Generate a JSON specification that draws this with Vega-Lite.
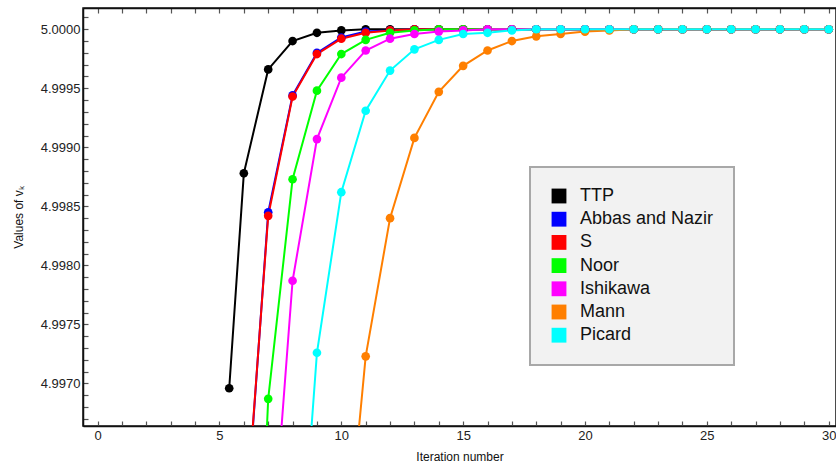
{
  "$schema": "https://vega.github.io/schema/vega-lite/v6.json",
  "width": 753,
  "height": 418,
  "autosize": "none",
  "padding": {"left": 83, "top": 8, "right": 0, "bottom": 37},
  "background": "white",
  "config": {
    "font": "Liberation Sans",
    "view": {"stroke": "#111", "strokeWidth": 1.5},
    "legend": {"strokeWidth": 2},
    "axis": {"grid": false, "labelOverlap": false, "domainColor": "#111", "domainWidth": 1.5, "tickColor": "#555", "tickWidth": 1.2, "labelColor": "#222", "labelFontSize": 13, "titleFontSize": 12, "titleFontWeight": "normal", "titleColor": "#111", "labelFont": "Liberation Sans", "titleFont": "Liberation Sans"}
  },
  "data": {"values": [
    {"n": 5.4, "v": 4.99696, "m": "TTP"}, {"n": 6, "v": 4.99878, "m": "TTP"}, {"n": 7, "v": 4.99966, "m": "TTP"}, {"n": 8, "v": 4.9999, "m": "TTP"}, {"n": 9, "v": 4.99997, "m": "TTP"}, {"n": 10, "v": 4.99999, "m": "TTP"},
    {"n": 11, "v": 5.0, "m": "TTP"}, {"n": 12, "v": 5.0, "m": "TTP"}, {"n": 13, "v": 5.0, "m": "TTP"}, {"n": 14, "v": 5.0, "m": "TTP"}, {"n": 15, "v": 5.0, "m": "TTP"}, {"n": 16, "v": 5.0, "m": "TTP"}, {"n": 17, "v": 5.0, "m": "TTP"}, {"n": 18, "v": 5.0, "m": "TTP"}, {"n": 19, "v": 5.0, "m": "TTP"}, {"n": 20, "v": 5.0, "m": "TTP"},
    {"n": 21, "v": 5.0, "m": "TTP"}, {"n": 22, "v": 5.0, "m": "TTP"}, {"n": 23, "v": 5.0, "m": "TTP"}, {"n": 24, "v": 5.0, "m": "TTP"}, {"n": 25, "v": 5.0, "m": "TTP"}, {"n": 26, "v": 5.0, "m": "TTP"}, {"n": 27, "v": 5.0, "m": "TTP"}, {"n": 28, "v": 5.0, "m": "TTP"}, {"n": 29, "v": 5.0, "m": "TTP"}, {"n": 30, "v": 5.0, "m": "TTP"},

    {"n": 5, "v": 4.9915, "m": "Abbas and Nazir"}, {"n": 6, "v": 4.99555, "m": "Abbas and Nazir"}, {"n": 7, "v": 4.99845, "m": "Abbas and Nazir"}, {"n": 8, "v": 4.99944, "m": "Abbas and Nazir"}, {"n": 9, "v": 4.9998, "m": "Abbas and Nazir"}, {"n": 10, "v": 4.99993, "m": "Abbas and Nazir"}, {"n": 11, "v": 4.99998, "m": "Abbas and Nazir"}, {"n": 12, "v": 4.99999, "m": "Abbas and Nazir"},
    {"n": 13, "v": 5.0, "m": "Abbas and Nazir"}, {"n": 14, "v": 5.0, "m": "Abbas and Nazir"}, {"n": 15, "v": 5.0, "m": "Abbas and Nazir"}, {"n": 16, "v": 5.0, "m": "Abbas and Nazir"}, {"n": 17, "v": 5.0, "m": "Abbas and Nazir"}, {"n": 18, "v": 5.0, "m": "Abbas and Nazir"}, {"n": 19, "v": 5.0, "m": "Abbas and Nazir"}, {"n": 20, "v": 5.0, "m": "Abbas and Nazir"}, {"n": 21, "v": 5.0, "m": "Abbas and Nazir"},
    {"n": 22, "v": 5.0, "m": "Abbas and Nazir"}, {"n": 23, "v": 5.0, "m": "Abbas and Nazir"}, {"n": 24, "v": 5.0, "m": "Abbas and Nazir"}, {"n": 25, "v": 5.0, "m": "Abbas and Nazir"}, {"n": 26, "v": 5.0, "m": "Abbas and Nazir"}, {"n": 27, "v": 5.0, "m": "Abbas and Nazir"}, {"n": 28, "v": 5.0, "m": "Abbas and Nazir"}, {"n": 29, "v": 5.0, "m": "Abbas and Nazir"}, {"n": 30, "v": 5.0, "m": "Abbas and Nazir"},

    {"n": 5, "v": 4.9916, "m": "S"}, {"n": 6, "v": 4.9956, "m": "S"}, {"n": 7, "v": 4.99842, "m": "S"}, {"n": 8, "v": 4.99943, "m": "S"}, {"n": 9, "v": 4.99979, "m": "S"}, {"n": 10, "v": 4.99992, "m": "S"}, {"n": 11, "v": 4.99997, "m": "S"}, {"n": 12, "v": 4.99999, "m": "S"},
    {"n": 13, "v": 5.0, "m": "S"}, {"n": 14, "v": 5.0, "m": "S"}, {"n": 15, "v": 5.0, "m": "S"}, {"n": 16, "v": 5.0, "m": "S"}, {"n": 17, "v": 5.0, "m": "S"}, {"n": 18, "v": 5.0, "m": "S"}, {"n": 19, "v": 5.0, "m": "S"}, {"n": 20, "v": 5.0, "m": "S"}, {"n": 21, "v": 5.0, "m": "S"},
    {"n": 22, "v": 5.0, "m": "S"}, {"n": 23, "v": 5.0, "m": "S"}, {"n": 24, "v": 5.0, "m": "S"}, {"n": 25, "v": 5.0, "m": "S"}, {"n": 26, "v": 5.0, "m": "S"}, {"n": 27, "v": 5.0, "m": "S"}, {"n": 28, "v": 5.0, "m": "S"}, {"n": 29, "v": 5.0, "m": "S"}, {"n": 30, "v": 5.0, "m": "S"},

    {"n": 6, "v": 4.99227, "m": "Noor"}, {"n": 7, "v": 4.99687, "m": "Noor"}, {"n": 8, "v": 4.99873, "m": "Noor"}, {"n": 9, "v": 4.99948, "m": "Noor"}, {"n": 10, "v": 4.99979, "m": "Noor"}, {"n": 11, "v": 4.99991, "m": "Noor"}, {"n": 12, "v": 4.99997, "m": "Noor"}, {"n": 13, "v": 4.99999, "m": "Noor"},
    {"n": 14, "v": 5.0, "m": "Noor"}, {"n": 15, "v": 5.0, "m": "Noor"}, {"n": 16, "v": 5.0, "m": "Noor"}, {"n": 17, "v": 5.0, "m": "Noor"}, {"n": 18, "v": 5.0, "m": "Noor"}, {"n": 19, "v": 5.0, "m": "Noor"}, {"n": 20, "v": 5.0, "m": "Noor"}, {"n": 21, "v": 5.0, "m": "Noor"},
    {"n": 22, "v": 5.0, "m": "Noor"}, {"n": 23, "v": 5.0, "m": "Noor"}, {"n": 24, "v": 5.0, "m": "Noor"}, {"n": 25, "v": 5.0, "m": "Noor"}, {"n": 26, "v": 5.0, "m": "Noor"}, {"n": 27, "v": 5.0, "m": "Noor"}, {"n": 28, "v": 5.0, "m": "Noor"}, {"n": 29, "v": 5.0, "m": "Noor"}, {"n": 30, "v": 5.0, "m": "Noor"},

    {"n": 6, "v": 4.99, "m": "Ishikawa"}, {"n": 7, "v": 4.99514, "m": "Ishikawa"}, {"n": 8, "v": 4.99787, "m": "Ishikawa"}, {"n": 9, "v": 4.99907, "m": "Ishikawa"}, {"n": 10, "v": 4.99959, "m": "Ishikawa"}, {"n": 11, "v": 4.99982, "m": "Ishikawa"}, {"n": 12, "v": 4.99992, "m": "Ishikawa"}, {"n": 13, "v": 4.99996, "m": "Ishikawa"}, {"n": 14, "v": 4.99998, "m": "Ishikawa"}, {"n": 15, "v": 4.99999, "m": "Ishikawa"},
    {"n": 16, "v": 5.0, "m": "Ishikawa"}, {"n": 17, "v": 5.0, "m": "Ishikawa"}, {"n": 18, "v": 5.0, "m": "Ishikawa"}, {"n": 19, "v": 5.0, "m": "Ishikawa"}, {"n": 20, "v": 5.0, "m": "Ishikawa"}, {"n": 21, "v": 5.0, "m": "Ishikawa"}, {"n": 22, "v": 5.0, "m": "Ishikawa"}, {"n": 23, "v": 5.0, "m": "Ishikawa"},
    {"n": 24, "v": 5.0, "m": "Ishikawa"}, {"n": 25, "v": 5.0, "m": "Ishikawa"}, {"n": 26, "v": 5.0, "m": "Ishikawa"}, {"n": 27, "v": 5.0, "m": "Ishikawa"}, {"n": 28, "v": 5.0, "m": "Ishikawa"}, {"n": 29, "v": 5.0, "m": "Ishikawa"}, {"n": 30, "v": 5.0, "m": "Ishikawa"},

    {"n": 9, "v": 4.9915, "m": "Mann"}, {"n": 10, "v": 4.99504, "m": "Mann"}, {"n": 11, "v": 4.99723, "m": "Mann"}, {"n": 12, "v": 4.9984, "m": "Mann"}, {"n": 13, "v": 4.99908, "m": "Mann"}, {"n": 14, "v": 4.99947, "m": "Mann"}, {"n": 15, "v": 4.99969, "m": "Mann"}, {"n": 16, "v": 4.99982, "m": "Mann"}, {"n": 17, "v": 4.9999, "m": "Mann"},
    {"n": 18, "v": 4.99994, "m": "Mann"}, {"n": 19, "v": 4.99996, "m": "Mann"}, {"n": 20, "v": 4.99998, "m": "Mann"}, {"n": 21, "v": 4.99999, "m": "Mann"}, {"n": 22, "v": 5.0, "m": "Mann"}, {"n": 23, "v": 5.0, "m": "Mann"}, {"n": 24, "v": 5.0, "m": "Mann"}, {"n": 25, "v": 5.0, "m": "Mann"}, {"n": 26, "v": 5.0, "m": "Mann"},
    {"n": 27, "v": 5.0, "m": "Mann"}, {"n": 28, "v": 5.0, "m": "Mann"}, {"n": 29, "v": 5.0, "m": "Mann"}, {"n": 30, "v": 5.0, "m": "Mann"},

    {"n": 7, "v": 4.99, "m": "Picard"}, {"n": 8, "v": 4.99444, "m": "Picard"}, {"n": 9, "v": 4.99726, "m": "Picard"}, {"n": 10, "v": 4.99862, "m": "Picard"}, {"n": 11, "v": 4.99931, "m": "Picard"}, {"n": 12, "v": 4.99965, "m": "Picard"}, {"n": 13, "v": 4.99983, "m": "Picard"}, {"n": 14, "v": 4.99991, "m": "Picard"}, {"n": 15, "v": 4.99996, "m": "Picard"}, {"n": 16, "v": 4.99997, "m": "Picard"}, {"n": 17, "v": 4.99999, "m": "Picard"},
    {"n": 18, "v": 5.0, "m": "Picard"}, {"n": 19, "v": 5.0, "m": "Picard"}, {"n": 20, "v": 5.0, "m": "Picard"}, {"n": 21, "v": 5.0, "m": "Picard"}, {"n": 22, "v": 5.0, "m": "Picard"}, {"n": 23, "v": 5.0, "m": "Picard"}, {"n": 24, "v": 5.0, "m": "Picard"}, {"n": 25, "v": 5.0, "m": "Picard"},
    {"n": 26, "v": 5.0, "m": "Picard"}, {"n": 27, "v": 5.0, "m": "Picard"}, {"n": 28, "v": 5.0, "m": "Picard"}, {"n": 29, "v": 5.0, "m": "Picard"}, {"n": 30, "v": 5.0, "m": "Picard"}
  ]},
  "resolve": {"axis": {"x": "independent", "y": "independent"}},
  "layer": [
    {
      "mark": {"type": "line", "strokeWidth": 2, "clip": true},
      "encoding": {
        "x": {"field": "n", "type": "quantitative", "title": "Iteration number",
          "scale": {"domain": [-0.6, 30.3], "nice": false, "zero": false},
          "axis": {"orient": "bottom", "values": [0,1,2,3,4,5,6,7,8,9,10,11,12,13,14,15,16,17,18,19,20,21,22,23,24,25,26,27,28,29,30], "labelExpr": "datum.value % 5 === 0 ? datum.label : ''", "tickSize": -5, "labelPadding": 8, "titlePadding": 9, "labelFlush": false}},
        "y": {"field": "v", "type": "quantitative", "title": "Values of vₖ",
          "scale": {"domain": [4.99664, 5.00018], "nice": false, "zero": false},
          "axis": {"orient": "left", "values": [4.9967,4.9968,4.9969,4.997,4.9971,4.9972,4.9973,4.9974,4.9975,4.9976,4.9977,4.9978,4.9979,4.998,4.9981,4.9982,4.9983,4.9984,4.9985,4.9986,4.9987,4.9988,4.9989,4.999,4.9991,4.9992,4.9993,4.9994,4.9995,4.9996,4.9997,4.9998,4.9999,5.0,5.0001],
            "labelExpr": "round(datum.value*10000) % 5 === 0 ? format(datum.value, '.4f') : ''", "tickSize": -5, "labelPadding": 8, "titleX": -65, "titleBaseline": "middle", "labelFlush": false}},
        "color": {"field": "m", "type": "nominal", "sort": ["TTP", "Abbas and Nazir", "S", "Noor", "Ishikawa", "Mann", "Picard"],
          "scale": {"domain": ["TTP", "Abbas and Nazir", "S", "Noor", "Ishikawa", "Mann", "Picard"], "range": ["#000000", "#0000ff", "#ff0000", "#00ff00", "#ff00ff", "#ff7f00", "#00ffff"]},
          "legend": {"orient": "none", "legendX": 447, "legendY": 159, "title": null, "fillColor": "#f2f2f2", "strokeColor": "#a8a8a8", "padding": 20, "symbolType": "square", "symbolSize": 220, "symbolStrokeWidth": 0, "symbolOpacity": 1, "labelFontSize": 18, "labelFont": "Liberation Sans", "labelColor": "#111", "labelOffset": 12, "rowPadding": 5.2}
        }
      }
    },
    {
      "mark": {"type": "point", "filled": true, "size": 75, "opacity": 1, "clip": true},
      "encoding": {
        "x": {"field": "n", "type": "quantitative",
          "axis": {"orient": "top", "values": [0,1,2,3,4,5,6,7,8,9,10,11,12,13,14,15,16,17,18,19,20,21,22,23,24,25,26,27,28,29,30], "labels": false, "title": null, "tickSize": -5}},
        "y": {"field": "v", "type": "quantitative", "axis": null},
        "color": {"field": "m", "type": "nominal"}
      }
    }
  ]
}
